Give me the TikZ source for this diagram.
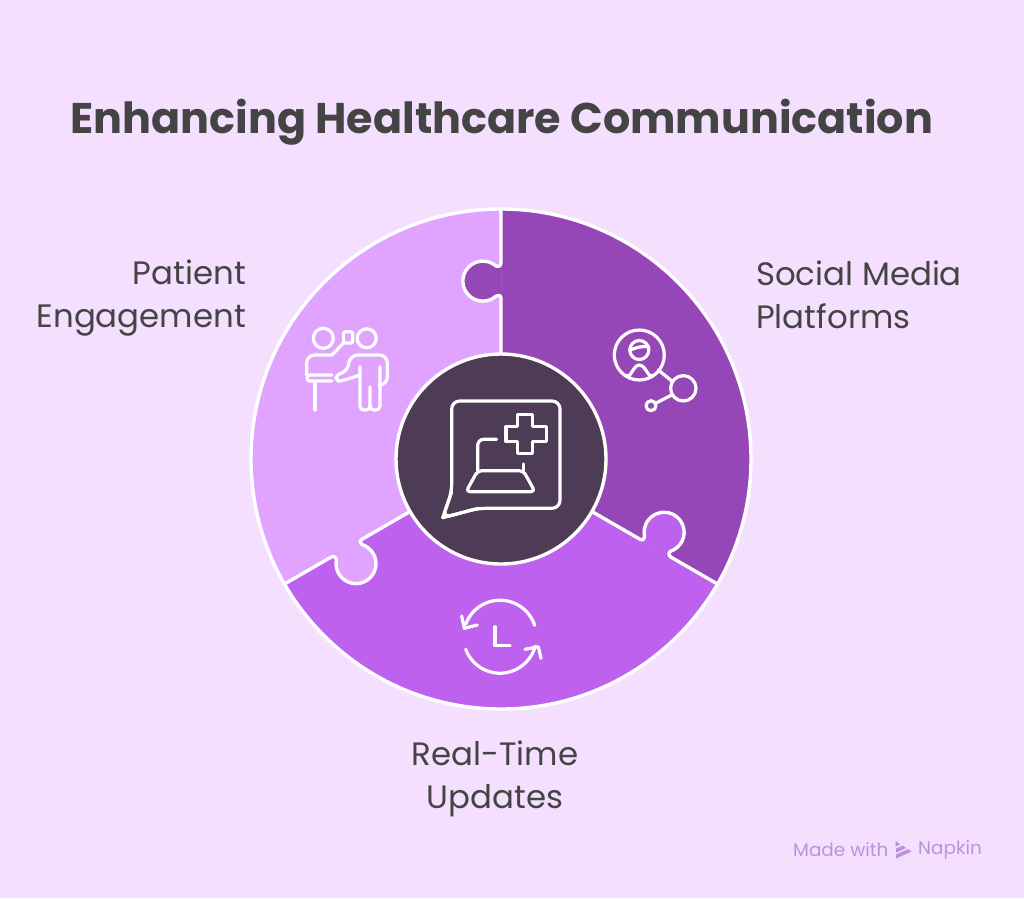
\documentclass[tikz,border=0pt]{standalone}
\usepackage{fontspec}
\setmainfont{Poppins}
\definecolor{pagebg}{HTML}{F4DFFF}
\definecolor{darkpiece}{HTML}{9647B7}
\definecolor{lightpiece}{HTML}{E0A3FF}
\definecolor{midpiece}{HTML}{BD61EE}
\definecolor{hubfill}{HTML}{4E3B55}
\definecolor{inktext}{HTML}{444444}
\definecolor{badgetext}{HTML}{BB92DC}
\newcommand{\knobpath}{.. controls (0,-193) and (-2,-192) .. (-5,-193) arc (-49:-311:20) .. controls (-2,-164) and (0,-164) .. (0,-160)}
\tikzset{
  seamline/.style={white, line width=3.4pt, line join=round, line cap=round},
  iconline/.style={white, line width=3.2pt, line join=round, line cap=round},
  labeltext/.style={text=inktext, font=\fontsize{32.4}{43}\selectfont, inner sep=0pt},
  badgelabel/.style={text=badgetext, font=\fontsize{18.4}{20}\selectfont, inner sep=0pt, anchor=west}
}
\begin{document}
\begin{tikzpicture}[x=1pt, y=-1pt]
        \useasboundingbox (0, 0) rectangle (1024, 898);
        \fill[pagebg] (0, 0) rectangle (1024, 898);

        \node[text=inktext, font=\fontsize{42.9}{50}\selectfont\bfseries, inner sep=0pt] (title) at (502, 122) {Enhancing Healthcare Communication};

        \foreach \turn/\piece in {0/darkpiece, 120/lightpiece, 240/midpiece} {
          \begin{scope}[shift={(501, 459)}, rotate=\turn]
            \fill[\piece] (0, 0) -- (-90:250) arc (-90:30:250) -- cycle;
          \end{scope}
        }
        \foreach \turn/\piece in {0/darkpiece, 120/lightpiece, 240/midpiece} {
          \begin{scope}[shift={(501, 459)}, rotate=\turn]
            \fill[\piece] (0, -197) \knobpath -- cycle;
            \draw[seamline] (0, -250) -- (0, -197) \knobpath -- (0, -105);
          \end{scope}
        }
        \draw[seamline] (501, 459) circle [radius=250];
        \draw[seamline, fill=hubfill] (501, 459) circle [radius=105];

        \draw[iconline, rounded corners=8pt] (442.7, 517.7) -- (451.7, 491.7) -- (451.7, 401) -- (560, 401) -- (560, 508.3) -- (478.3, 508.3) -- cycle;
        \draw[iconline] (442.7, 517.7) -- (451.7, 491.7);
        \draw[iconline] (442.7, 517.7) -- (478.3, 508.3);
        \draw[iconline] (517.7, 414.3) -- (532.3, 414.3) -- (532.3, 426.7) -- (546.7, 426.7) -- (546.7, 441.7) -- (532.3, 441.7) -- (532.3, 453.3) -- (517.7, 453.3) -- (517.7, 441.7) -- (506, 441.7) -- (506, 426.7) -- (517.7, 426.7) -- cycle;
        \draw[iconline, rounded corners=6pt] (496.7, 439.3) -- (477.7, 439.3) -- (477.7, 470.7);
        \draw[iconline] (523.3, 464) -- (523.3, 470.7);
        \draw[iconline, rounded corners=4pt] (477.7, 470.7) -- (523.3, 470.7) -- (535, 491.7) -- (466, 491.7) -- cycle;

        \draw[iconline] (323.3, 338.3) circle [radius=10];
        \draw[iconline] (366.7, 338.3) circle [radius=9.5];
        \draw[iconline, rounded corners=2pt] (343.5, 331.7) -- (352.7, 331.7) -- (352.7, 343) -- (343.5, 343) -- cycle;
        \draw[iconline] (343.5, 343) -- (332, 355);
        \draw[iconline, rounded corners=8pt] (332, 355) -- (306.7, 355) -- (306.7, 375);
        \draw[iconline, rounded corners=3pt] (332, 375) -- (307, 375) -- (307, 381) -- (332, 381);
        \draw[iconline] (315, 382) -- (315, 410);
        \draw[iconline, rounded corners=8pt] (348.3, 366) -- (350, 355) -- (387.3, 355) -- (387.3, 385) -- (380, 385);
        \draw[iconline, rounded corners=4pt] (360, 366.7) -- (360, 410) -- (370, 410) -- (370, 387);
        \draw[iconline, rounded corners=4pt] (370, 405) -- (370, 410) -- (380, 410) -- (380, 366.7);
        \draw[iconline, rounded corners=4pt] (348.3, 366) -- (345, 372) -- (336, 375) -- (336, 381) -- (341.7, 381) -- (360, 375);

        \draw[iconline] (639.3, 355) circle [radius=25];
        \draw[iconline] (639.3, 350) circle [radius=9.5];
        \draw[iconline] (630, 350) to[out=20, in=170] (649, 347);
        \draw[iconline] (626.7, 375) to[out=-60, in=180] (639.3, 365) to[out=0, in=-120] (652.7, 375);
        \draw[iconline] (683.3, 388.3) circle [radius=12.7];
        \draw[iconline] (651, 405.7) circle [radius=5];
        \draw[iconline] (658.3, 370) -- (672.7, 381.7);
        \draw[iconline] (671.7, 395) -- (656.7, 402.7);

        \coordinate (clock) at (500, 636.7);
        \draw[iconline] (clock) ++(-18:36.5) arc (-18:-160:36.5);
        \draw[iconline] (clock) ++(160:36.5) arc (160:15:36.5);
        \draw[iconline] (461.7, 616) -- (464.3, 628.3) -- (477.3, 625);
        \draw[iconline] (525, 649.3) -- (538.3, 646.7) -- (541, 658.3);
        \draw[iconline] (495, 626.7) -- (495, 645.7) -- (510, 645.7);

        \node[labeltext, align=right, anchor=east] (patient) at (246, 298) {Patient\\Engagement};
        \node[labeltext, align=left, anchor=west] (social) at (756, 295) {Social Media\\Platforms};
        \node[labeltext, align=center] (realtime) at (495, 779) {Real-Time\\Updates};

        \node[badgelabel] (madewith) at (793, 850) {Made with};
        \node[badgelabel] (napkin) at (918, 850) {Napkin};
        \fill[badgetext] (895.5, 840.7) -- (900, 844.5) -- (895.5, 846.5) -- cycle;
        \fill[badgetext] (896, 848.5) -- (903, 845.5) -- (906, 848) -- (896, 852.5) -- cycle;
        \fill[badgetext] (896, 854.5) -- (908, 849.2) -- (911.5, 851.5) -- (896, 858.5) -- cycle;
        \fill[badgetext] (896.5, 860.5) -- (904, 857.2) -- cycle;
      \end{tikzpicture}
\end{document}
